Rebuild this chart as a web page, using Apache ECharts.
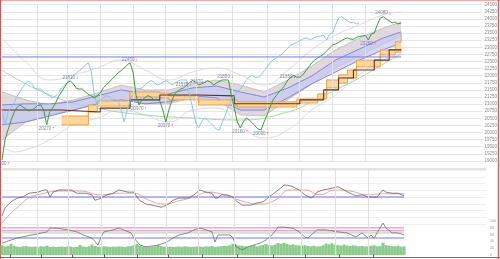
<!DOCTYPE html>
<html><head><meta charset="utf-8">
<script src="https://cdn.jsdelivr.net/npm/echarts@6/dist/echarts.min.js"></script>
<style>html,body{margin:0;padding:0;background:#fff}#c{width:500px;height:259px}</style>
</head><body><div id="c"></div>
<script>
// ---------- DATA ----------
// daily closes (one per trading step)
const closes = [19030,19740,20090,20410,20690,20880,20970,20900,20830,20760,
20790,20860,20950,20970,20790,20270,20720,20860,21040,21270,
21430,21600,21760,21810,21710,21550,21530,21530,21430,21340,
21290,21220,21290,21390,21570,21670,21780,21880,21990,22100,
22180,22270,22380,22450,22130,21320,20970,21150,21220,21300,
21250,21150,21180,21110,20790,20370,20790,21110,21360,21460,
21530,21570,21670,21760,21830,21780,21670,21710,21760,21830,
21780,21670,21740,21800,21850,21850,21850,21320,20860,20370,
20160,20370,20510,20440,20340,20230,20120,20090,20370,20620,
20900,21150,21290,21430,21530,21670,21850,21950,22010,21940,
21950,22030,22170,22310,22450,22550,22620,22690,22760,22870,
22980,23080,23120,23170,23240,23290,23330,23290,23280,23350,
23380,23400,23420,23260,23470,23500,23790,24030,24080,24000,
23930,23860,23890,23820,23860];
const chikouShift = 14;

const bandIdx = [0,8,16,24,32,40,48,56,64,72,80,88,96,104,112,120,128,134];
const grayUp  = [21430,21150,20970,21150,21390,21670,21500,21500,21710,21850,21670,21430,21850,22340,22910,23330,23680,23890];
const grayLo  = [19740,20370,20620,20790,21010,21150,21010,21010,21220,21150,20620,20580,21150,21710,22270,22690,23120,23400];
const lavUp   = [20970,21010,21010,21080,21290,21500,21360,21360,21570,21640,21430,21250,21570,21990,22550,22940,23330,23540];
const lavLo   = [20270,20370,20580,20790,21010,21150,21010,21080,21290,21220,20790,20790,21220,21710,22130,22550,22910,23150];

const orangeIdx = [20,29,32,43,53,56,66,79,99,106,109,113,116,119,127,132,134];
const orangeUp  = [20580,20970,21110,21430,21390,21290,21150,21080,21180,21360,21850,22030,22200,22550,22910,23190,23500];
const orangeLo  = [20270,20720,20930,21250,21220,21150,20970,20900,21040,21180,21570,21740,21920,22310,22730,22830,22980];

const kijunIdx = [0,6,20,33,43,53,66,78,100,108,113,118,125,130,134];
const kijunVal = [20790,20790,20720,20860,21150,21320,21290,21010,21150,21500,21920,22200,22550,22910,22910];

const longIdx = [0,16,32,48,64,80,96,104,112,120,128,134];
const longVal = [22200,21320,20860,20620,20510,20440,20720,21080,21500,21920,22410,22760];

const outerUpIdx = [0,8,16,24,32,40,48,56,64,72,80,88,96,104,112,120,128,134];
const outerUpVal = [23330,22480,21850,22030,22270,22550,22200,21850,22130,22270,22030,21670,22200,22910,23430,23790,24140,24240];
const outerLoIdx = [0,4,8,16,24,32,40,48,56,64,72,80,88,96,104,112,120,128,134];
const outerLoVal = [19560,19320,19390,19740,20270,20510,20790,20620,20370,20790,20860,20270,19810,20090,20790,21320,22030,22550,22730];

const levelPrice = 22660;
const priceMin = 19000, priceMax = 24500, priceStep = 250;

const labelTop = [23,43,61,66,75,96,128];
const labelBottom = [0,15,46,55,80,87,123];

const rsiIdx = [0,1,3,5,7,9,12,14,15,16,17,19,23,25,28,30,31,33,35,37,39,42,44,45,46,48,50,53,55,57,59,62,64,66,68,70,71,72,73,75,77,78,80,83,85,87,89,90,93,94,95,97,99,101,103,104,105,107,109,112,114,116,118,120,122,125,127,128,130,132,134];
const rsiVal = [15,30,41,48,50,57,59,63,63,50,59,63,63,57,57,54,44,48,54,57,63,59,59,50,43,37,35,31,35,44,48,48,54,63,59,57,48,48,54,54,50,43,35,35,39,41,50,54,67,72,72,69,63,54,48,52,59,63,65,69,63,57,52,54,50,50,63,59,57,57,52];
const sigIdx = [0,3,6,9,14,19,26,33,39,44,49,54,59,64,69,74,81,86,91,96,101,106,111,116,122,127,134];
const sigVal = [2,20,35,48,57,61,61,54,57,57,44,37,43,50,59,54,41,37,44,63,63,54,63,61,54,56,56];
const rsiMid = 50;

const oscIdx = [0,5,10,15,16,18,22,25,27,30,32,33,34,37,39,43,44,46,48,52,55,57,59,62,64,66,68,70,71,72,76,77,78,80,82,86,88,90,92,94,97,99,101,102,105,108,112,115,118,120,122,123,124,125,127,128,130,132,134];
const oscVal = [35,50,59,68,79,79,74,68,59,50,29,53,68,74,79,65,50,29,24,29,38,50,59,65,74,79,74,68,38,59,59,50,24,15,24,35,44,59,82,82,79,68,53,50,74,74,68,65,53,65,50,59,50,65,94,79,65,65,59];
const oscLevels = [80,71,65,50];

const volume = [70,62,65,80,66,60,58,62,64,60,
58,60,56,62,60,66,58,60,57,59,
60,58,62,60,56,58,72,60,58,62,
75,64,60,58,62,60,57,60,58,61,
60,58,62,64,70,78,66,62,60,58,
60,62,72,64,60,58,60,57,59,60,
58,62,60,57,59,61,60,58,62,60,
64,58,60,62,66,64,70,80,74,68,
66,62,60,64,70,62,66,72,78,70,
68,74,86,80,88,78,72,76,70,68,
66,70,64,62,66,60,62,68,82,76,
84,72,70,66,74,68,64,70,66,62,
64,60,62,66,70,62,64,88,70,66,
64,62,66,60,62];

const monthLines = [11.7,22,33,44,54.7,65.3,77.3,89,99.7,111,122];
const tickPos = [2.7,13,23.3,34,45,55.3,66.7,78.3,90.3,101,112.3,123.7];

// ---------- CHART ----------
const X_MAX = 161.33;
const lastK = closes.length - 1;
const P = (idx, vals) => idx.map((k, i) => [k, vals[i]]);
const closePairs = closes.map((v, k) => [k, v]);
const chikouPairs = closes.map((v, k) => [k - chikouShift, v]);
const flat = (v) => [[0, v], [lastK, v]];
const vmark = {silent: true, symbol: 'none', label: {show: false},
  lineStyle: {color: '#e0e0e0', width: 1, type: 'solid'},
  data: monthLines.map(v => ({xAxis: v}))};
const tickMark = {silent: true, symbol: 'none', label: {show: false},
  lineStyle: {color: '#555', width: 1, type: 'solid'},
  data: tickPos.map(v => ({xAxis: v}))};
const lbl = (arr, pos) => arr.map(k => ({value: [k, closes[k]], label: {position: pos,
  formatter: pos === 'top' ? '{v|' + closes[k] + '}{r|↓}' : '{v|' + closes[k] + '}{r|↑}'}}));

function band(idx, up, lo, fill, stroke, w, step, z) {
  return {type: 'custom', xAxisIndex: 0, yAxisIndex: 0, z, silent: true,
    data: idx.map((k, i) => [k, up[i], lo[i]]),
    encode: {x: 0, y: [1, 2]},
    renderItem: (params, api) => {
      if (params.dataIndex !== 0) return;
      const u = [], l = [];
      for (let i = 0; i < idx.length; i++) {
        if (step && i > 0) {
          u.push(api.coord([idx[i], up[i - 1]]));
          l.push(api.coord([idx[i], lo[i - 1]]));
        }
        u.push(api.coord([idx[i], up[i]]));
        l.push(api.coord([idx[i], lo[i]]));
      }
      return {type: 'group', children: [
        {type: 'polygon', shape: {points: u.concat(l.slice().reverse())}, style: {fill: fill, stroke: null}},
        {type: 'polyline', shape: {points: u}, style: {stroke: stroke, lineWidth: w, fill: null}},
        {type: 'polyline', shape: {points: l}, style: {stroke: stroke, lineWidth: w, fill: null}}
      ]};
    }};
}

const chart = echarts.init(document.getElementById('c'));
const xa = (g, extra) => Object.assign({type: 'value', gridIndex: g, min: 0, max: X_MAX, show: false}, extra || {});
const lineS = (name, data, color, w, more) => Object.assign({name, type: 'line', data, symbol: 'none',
  lineStyle: {color, width: w}, silent: true, animation: false}, more || {});

chart.setOption({
  animation: false,
  graphic: [
    {type: 'rect', shape: {x: 2, y: 168, width: 484, height: 2}, style: {fill: '#e2e2e2'}, z: 0},
    {type: 'line', shape: {x1: 0, y1: 0.5, x2: 500, y2: 0.5}, style: {stroke: '#f2a8a8', lineWidth: 1}},
    {type: 'line', shape: {x1: 0.5, y1: 0, x2: 0.5, y2: 259}, style: {stroke: '#d85050', lineWidth: 1}},
    {type: 'line', shape: {x1: 0, y1: 257.5, x2: 500, y2: 257.5}, style: {stroke: '#c84848', lineWidth: 1}},
    {type: 'line', shape: {x1: 498.5, y1: 0, x2: 498.5, y2: 259}, style: {stroke: '#b07070', lineWidth: 1.5}}
  ],
  grid: [
    {left: 2, right: 14, top: 4.7, height: 156.2},
    {left: 2, right: 14, top: 170, height: 54},
    {left: 2, right: 14, top: 221, height: 34},
    {left: 2, right: 14, top: 241, height: 14},
    {left: 2, right: 14, top: 254.5, height: 2.8}
  ],
  xAxis: [xa(0), xa(1), xa(2), xa(3), xa(4)],
  yAxis: [
    {type: 'value', gridIndex: 0, position: 'right', min: priceMin, max: priceMax, interval: priceStep,
      axisLine: {show: false}, axisTick: {show: false},
      axisLabel: {fontSize: 4.5, color: '#8a8a8a', margin: 2, formatter: v => String(v), fontFamily: 'Liberation Sans'},
      splitLine: {lineStyle: {color: '#e6e6e6', width: 1}}},
    {type: 'value', gridIndex: 1, min: 0, max: 100, interval: 12.5, show: true, position: 'right',
      axisLine: {show: false}, axisTick: {show: false}, axisLabel: {show: false},
      splitLine: {lineStyle: {color: '#efefef'}}},
    {type: 'value', gridIndex: 2, min: 0, max: 100, interval: 20, position: 'right',
      axisLine: {show: false}, axisTick: {show: false},
      axisLabel: {fontSize: 3.5, color: '#999', margin: 4, fontFamily: 'Liberation Sans'},
      splitLine: {show: false}},
    {type: 'value', gridIndex: 3, min: 0, max: 100, show: false},
    {type: 'value', gridIndex: 4, min: 0, max: 1, show: false}
  ],
  series: [
    lineS('outerUp', P(outerUpIdx, outerUpVal), '#d2d2d2', 0.8, {smooth: true, markLine: vmark, z: 1}),
    lineS('outerLo', P(outerLoIdx, outerLoVal), '#d2d2d2', 0.8, {smooth: true, z: 1}),
    band(bandIdx, grayUp, grayLo, 'rgba(214,204,210,0.75)', '#a9a9a9', 0.6, false, 2),
    lineS('longMA', P(longIdx, longVal), '#a8d8a2', 1, {smooth: true, z: 2}),
    band(bandIdx, lavUp, lavLo, 'rgba(196,200,242,0.7)', '#6a74da', 0.8, false, 3),
    band(orangeIdx, orangeUp, orangeLo, 'rgba(252,214,156,0.95)', '#eea040', 1, true, 4),
    lineS('kijun', P(kijunIdx, kijunVal), '#5a3228', 1.1, {step: 'end', z: 5}),
    lineS('level', flat(levelPrice), '#7777ee', 1, {z: 5}),
    lineS('chikou', chikouPairs, '#86c8ea', 1, {z: 6}),
    lineS('close', closePairs, '#3c9c3c', 1, {z: 7}),
    {type: 'scatter', symbolSize: 0, z: 8, silent: true,
      data: lbl(labelTop, 'top').concat(lbl(labelBottom, 'bottom')),
      label: {show: true, distance: 1, rich: {
        v: {fontSize: 4.5, color: '#6262a8', fontFamily: 'Liberation Sans'},
        r: {fontSize: 5, color: '#e02020', fontWeight: 'bold', padding: [0, 0, 0, 1]}}}},
    // RSI panel
    lineS('rsi', P(rsiIdx, rsiVal), '#666666', 0.8, {xAxisIndex: 1, yAxisIndex: 1, markLine: vmark, z: 3}),
    lineS('rsiSig', P(sigIdx, sigVal), '#e48c8c', 0.8, {xAxisIndex: 1, yAxisIndex: 1, smooth: true, z: 2}),
    lineS('rsiMid', flat(rsiMid), '#7373e8', 1, {xAxisIndex: 1, yAxisIndex: 1, z: 1}),
    // oscillator panel
    lineS('lv80', flat(oscLevels[0]), '#f3a6d6', 1.5, {xAxisIndex: 2, yAxisIndex: 2, markLine: vmark, z: 1}),
    lineS('lv71', flat(oscLevels[1]), '#f3a6d6', 1.5, {xAxisIndex: 2, yAxisIndex: 2, z: 1}),
    lineS('lv65', flat(oscLevels[2]), '#a4d9a4', 1, {xAxisIndex: 2, yAxisIndex: 2, z: 1}),
    lineS('lv50', flat(oscLevels[3]), '#7777ee', 1, {xAxisIndex: 2, yAxisIndex: 2, z: 1}),
    {type: 'bar', xAxisIndex: 3, yAxisIndex: 3, data: volume.map((v, k) => [k, v]), barWidth: 3.1,
      itemStyle: {color: '#8acb8a'}, silent: true, z: 2},
    lineS('osc', P(oscIdx, oscVal), '#707070', 0.8, {xAxisIndex: 2, yAxisIndex: 2, z: 4}),
    // bottom month ticks
    lineS('ticks', [], '#555', 0, {xAxisIndex: 4, yAxisIndex: 4, markLine: tickMark, z: 9})
  ]
});
</script></body></html>
